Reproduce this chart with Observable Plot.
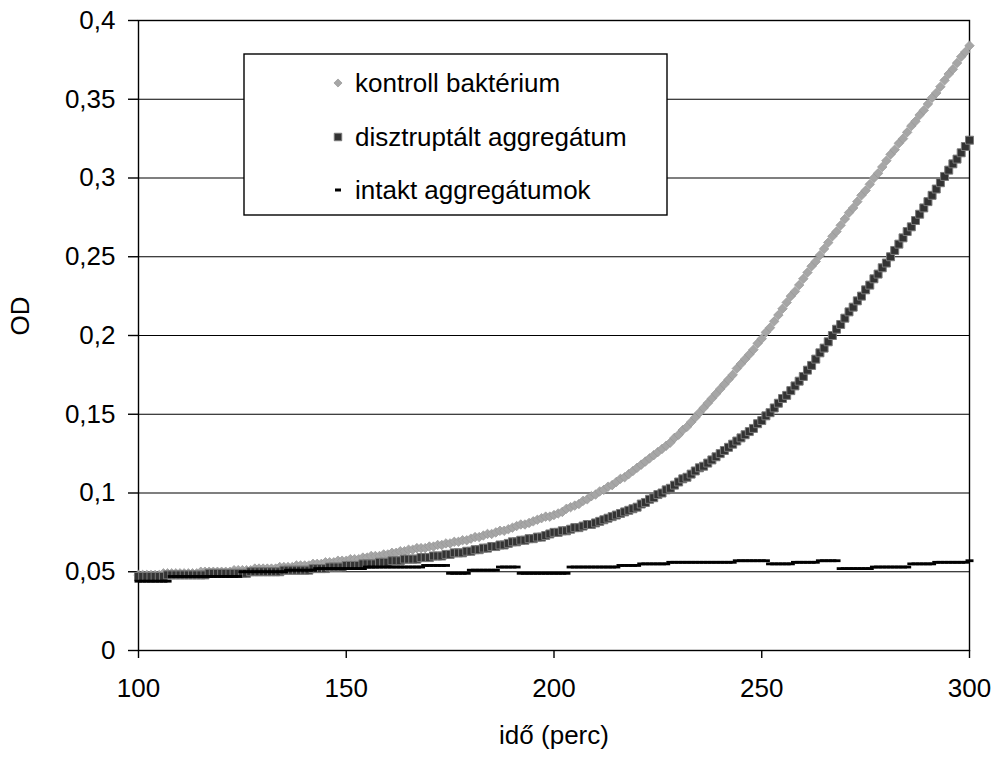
<!DOCTYPE html>
<html>
<head>
<meta charset="utf-8">
<script src="https://cdn.jsdelivr.net/npm/d3@7"></script>
<script src="https://cdn.jsdelivr.net/npm/@observablehq/plot@0.6"></script>
<style>
  html, body { margin: 0; padding: 0; background: white; }
  #chart { width: 993px; height: 765px; }
</style>
</head>
<body>
<div id="chart"></div>
<script>
// Sampling times (minutes), one reading per minute
const minutes = d3.range(100, 301);

// OD readings (one per minute, 100..300)
const kontroll = [
  .048,.048,.048,.048,.048,.048,.049,.049,.049,.049,.049,
  .049,.049,.049,.049,.050,.050,.050,.050,.050,.050,
  .050,.050,.051,.051,.051,.051,.051,.052,.052,.052,
  .052,.052,.052,.053,.053,.053,.053,.054,.054,.054,
  .054,.055,.055,.055,.056,.056,.056,.057,.057,.057,
  .058,.058,.058,.059,.059,.060,.060,.060,.061,.061,
  .062,.062,.063,.063,.064,.064,.065,.065,.065,.066,
  .066,.067,.067,.068,.068,.069,.069,.070,.070,.071,
  .072,.072,.073,.074,.074,.075,.076,.076,.077,.078,
  .079,.080,.080,.081,.082,.083,.084,.085,.085,.086,
  .087,.088,.090,.091,.092,.093,.095,.096,.098,.099,
  .101,.102,.104,.105,.107,.109,.110,.112,.114,.116,
  .118,.120,.122,.124,.126,.128,.130,.132,.135,.137,
  .140,.142,.145,.148,.151,.154,.157,.160,.163,.166,
  .169,.172,.175,.179,.182,.185,.188,.191,.195,.198,
  .202,.205,.209,.213,.217,.221,.225,.228,.232,.236,
  .240,.244,.247,.251,.255,.259,.263,.266,.270,.274,
  .278,.281,.285,.289,.292,.296,.300,.303,.307,.311,
  .315,.318,.322,.325,.329,.333,.336,.340,.343,.347,
  .351,.354,.358,.362,.366,.369,.373,.377,.380,.384
];
const disztruptalt = [
  .047,.047,.047,.047,.047,.047,.047,.048,.048,.048,.048,
  .048,.048,.048,.048,.048,.048,.049,.049,.049,.049,
  .049,.049,.049,.049,.049,.049,.050,.050,.050,.050,
  .050,.050,.050,.050,.051,.051,.051,.051,.051,.051,
  .051,.052,.052,.052,.052,.053,.053,.053,.053,.054,
  .054,.054,.054,.055,.055,.055,.055,.056,.056,.056,
  .057,.057,.057,.058,.058,.058,.058,.059,.059,.059,
  .060,.060,.060,.061,.061,.062,.062,.062,.063,.063,
  .064,.064,.065,.065,.066,.066,.067,.067,.068,.069,
  .069,.070,.070,.071,.071,.072,.072,.073,.074,.075,
  .075,.076,.076,.077,.078,.078,.079,.080,.080,.081,
  .082,.083,.084,.085,.086,.087,.088,.089,.090,.091,
  .093,.094,.096,.097,.099,.100,.102,.103,.105,.107,
  .109,.110,.112,.114,.116,.117,.119,.121,.123,.125,
  .127,.129,.131,.133,.135,.137,.139,.141,.144,.146,
  .149,.151,.154,.157,.160,.162,.165,.168,.171,.174,
  .178,.181,.185,.189,.192,.196,.200,.204,.207,.211,
  .215,.218,.222,.225,.229,.232,.236,.239,.243,.246,
  .250,.254,.258,.262,.266,.269,.273,.277,.281,.285,
  .289,.293,.297,.301,.305,.309,.312,.316,.320,.324
];
const intakt = [
  .044,.044,.044,.044,.044,.044,.044,.044,.047,.047,.047,
  .047,.047,.047,.047,.047,.047,.047,.047,.047,.047,
  .047,.047,.047,.047,.050,.050,.050,.050,.050,.050,
  .050,.050,.050,.050,.050,.051,.051,.051,.051,.051,
  .051,.051,.052,.052,.052,.052,.052,.052,.052,.052,
  .052,.052,.052,.052,.053,.053,.053,.053,.053,.053,
  .053,.053,.053,.053,.053,.053,.053,.053,.054,.054,
  .054,.054,.054,.054,.049,.049,.049,.049,.049,.051,
  .051,.051,.051,.051,.051,.051,.053,.053,.053,.053,
  .053,.049,.049,.049,.049,.049,.049,.049,.049,.049,
  .049,.049,.049,.053,.053,.053,.053,.053,.053,.053,
  .053,.053,.053,.053,.053,.054,.054,.054,.054,.054,
  .055,.055,.055,.055,.055,.055,.055,.056,.056,.056,
  .056,.056,.056,.056,.056,.056,.056,.056,.056,.056,
  .056,.056,.056,.057,.057,.057,.057,.057,.057,.057,
  .057,.055,.055,.055,.055,.055,.055,.056,.056,.056,
  .056,.056,.056,.057,.057,.057,.057,.057,.052,.052,
  .052,.052,.052,.052,.052,.052,.053,.053,.053,.053,
  .053,.053,.053,.053,.053,.055,.055,.055,.055,.055,
  .055,.056,.056,.056,.056,.056,.056,.056,.056,.057
];

const seriesNames = ["kontroll baktérium", "disztruptált aggregátum", "intakt aggregátumok"];
const xTicks = [100, 150, 200, 250, 300];
const yTicks = [0, 0.05, 0.1, 0.15, 0.2, 0.25, 0.3, 0.35, 0.4];
const xLabel = "idő (perc)";
const yLabel = "OD";

const toRows = (vals) => minutes.map((t, i) => ({t, v: vals[i]})).filter(d => d.v != null);
const rowsK = toRows(kontroll);
const rowsD = toRows(disztruptalt);
const rowsI = toRows(intakt);

const fmt = d => d3.format(".2~f")(d).replace(".", ",");

const dashSymbol = {
  draw(ctx) {
    ctx.moveTo(-4, -1.4); ctx.lineTo(4, -1.4); ctx.lineTo(4, 1.4); ctx.lineTo(-4, 1.4); ctx.closePath();
  }
};

const FONT = "'Liberation Sans', Arial, Helvetica, sans-serif";

const chart = Plot.plot({
  width: 993,
  height: 765,
  marginLeft: 138,
  marginRight: 24,
  marginTop: 20,
  marginBottom: 115,
  style: {fontFamily: FONT, fontSize: "26px", background: "white", color: "black"},
  x: {domain: [100, 300]},
  y: {domain: [0, 0.4]},
  marks: [
    Plot.gridY(yTicks, {stroke: "black", strokeOpacity: 1, strokeWidth: 1.2}),
    Plot.frame({stroke: "black", strokeWidth: 1.4}),
    Plot.axisY({ticks: yTicks, tickFormat: fmt, tickSize: 10, tickPadding: 13, fontSize: 26, label: null, strokeWidth: 1.4}),
    Plot.axisX({ticks: xTicks, tickFormat: d => String(d), tickSize: 8, tickPadding: 20, fontSize: 26, label: null, strokeWidth: 1.4}),
    Plot.dot(rowsK, {x: "t", y: "v", symbol: "diamond2", r: 4.3, fill: "#a6a6a6", stroke: "#969696", strokeWidth: 0.7}),
    Plot.dot(rowsD, {x: "t", y: "v", symbol: "square", r: 4.5, fill: "#333333", stroke: "#7a7a7a", strokeWidth: 1}),
    Plot.dot(rowsI, {x: "t", y: "v", symbol: dashSymbol, fill: "black", stroke: "none"}),
    Plot.text([xLabel], {frameAnchor: "bottom", dy: 93, fontSize: 26, fill: "black"}),
    Plot.text([yLabel], {frameAnchor: "left", dx: -118, rotate: -90, fontSize: 26, fill: "black"})
  ]
});

// Legend box inside the plot area (Excel-style)
const svg = d3.select(chart);
const lg = svg.append("g").attr("font-family", FONT).attr("font-size", 26).attr("text-anchor", "start");
lg.append("rect").attr("x", 244).attr("y", 54).attr("width", 423).attr("height", 161)
  .attr("fill", "white").attr("stroke", "black").attr("stroke-width", 1.4);
const rowsY = [83, 137, 190];
// marker glyphs
lg.append("path").attr("transform", `translate(338,${rowsY[0]})`)
  .attr("d", d3.symbol(d3.symbolDiamond2, 42)()).attr("fill", "#a6a6a6").attr("stroke", "#969696").attr("stroke-width", 0.7);
lg.append("path").attr("transform", `translate(338,${rowsY[1]})`)
  .attr("d", d3.symbol(d3.symbolSquare, 56)()).attr("fill", "#333333").attr("stroke", "#7a7a7a").attr("stroke-width", 1);
lg.append("rect").attr("x", 335).attr("y", rowsY[2] - 1.5).attr("width", 6).attr("height", 3).attr("fill", "black");
seriesNames.forEach((name, i) => {
  lg.append("text").attr("x", 355).attr("y", rowsY[i]).attr("dy", "0.35em")
    .attr("text-anchor", "start").attr("fill", "black").text(name);
});

document.getElementById("chart").appendChild(chart);
</script>
</body>
</html>
